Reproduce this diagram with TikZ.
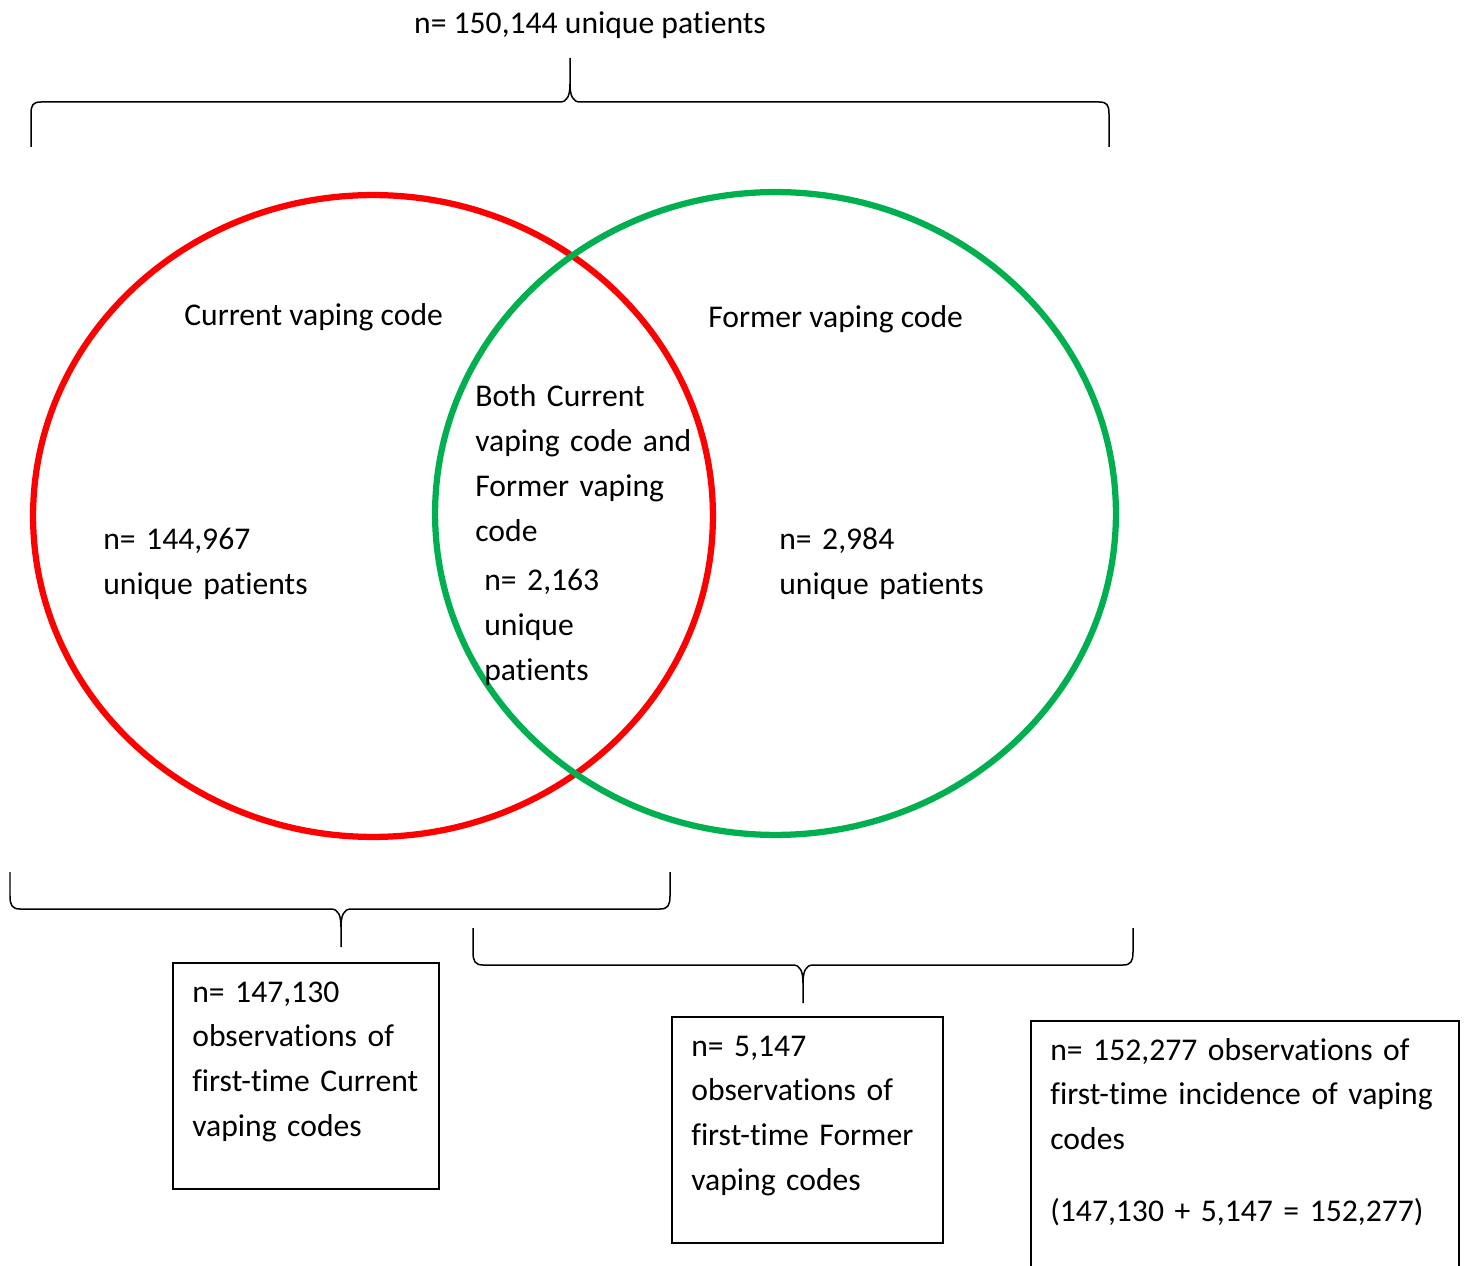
\documentclass[tikz,border=0pt]{standalone}
\usepackage{fontspec}
\setmainfont{Carlito}[Ligatures=NoCommon]
\usetikzlibrary{positioning}
\definecolor{setred}{RGB}{255,0,0}
\definecolor{setgreen}{RGB}{0,176,80}
\tikzset{
vapeset/.style={
draw,
line width=0.125cm
},
countbox/.style={
draw,
line width=0.04cm,
anchor=north west,
inner sep=0pt
},
bracepath/.style={
draw,
line width=0.03cm,
line join=round
},
lbl/.style={
font=\fontsize{18}{25.6}\selectfont,
inner sep=0pt
},
block/.style={
lbl,
anchor=base west,
align=left,
text width=6cm
}
}

\begin{document}
\begin{tikzpicture}[x=0.02cm, y=-0.02cm]
\path[use as bounding box, clip] (0,0) rectangle (1464,1266);

% the two sets
\draw[vapeset, setred] (373,516) ellipse [x radius=6.8cm, y radius=6.42cm];
\draw[vapeset, setgreen] (775.5,513.5) ellipse [x radius=6.81cm, y radius=6.43cm];

% braces
\draw[bracepath] (31,147) -- (31,114) .. controls (31,105) and (33,102) .. (41,102) -- (560,102) .. controls (567,102) and (570,96) .. (570,84) -- (570,58);
\draw[bracepath] (1109,147) -- (1109,114) .. controls (1109,105) and (1107,102) .. (1099,102) -- (580,102) .. controls (573,102) and (570,96) .. (570,84);
\draw[bracepath] (10,872) -- (10,896) .. controls (10,905) and (12,909) .. (20,909) -- (331,909) .. controls (338,909) and (341,915) .. (341,927) -- (341,947);
\draw[bracepath] (670,872) -- (670,896) .. controls (670,905) and (668,909) .. (660,909) -- (351,909) .. controls (344,909) and (341,915) .. (341,927);
\draw[bracepath] (473,928) -- (473,952) .. controls (473,961) and (475,965) .. (483,965) -- (793,965) .. controls (800,965) and (803,971) .. (803,983) -- (803,1003);
\draw[bracepath] (1133,928) -- (1133,952) .. controls (1133,961) and (1131,965) .. (1123,965) -- (813,965) .. controls (806,965) and (803,971) .. (803,983);

% labels
\node[lbl, anchor=base] (total) at (590,34) {n= 150,144 unique patients};
\node[lbl, anchor=base west] (curlab) at (184,326) {Current vaping code};
\node[lbl, anchor=base west] (formlab) at (708,328) {Former vaping code};
\node[block] (curn) at (103,550) {n= 144,967\\unique patients};
\node[block] (formn) at (779,550) {n= 2,984\\unique patients};
\node[block] (bothlab) at (475,407) {Both Current\\vaping code and\\Former vaping\\code};
\node[block] (bothn) at (484,591) {n= 2,163\\unique\\patients};

% count boxes
\node[countbox, minimum width=5.32cm, minimum height=4.52cm] (curbox) at (172,962) {};
\node[countbox, minimum width=5.42cm, minimum height=4.52cm] (formbox) at (671,1016) {};
\node[countbox, minimum width=8.56cm, minimum height=5.6cm] (allbox) at (1030,1020) {};
\node[block] (curobs) at (192,1002) {n= 147,130\\observations of\\first-time Current\\vaping codes};
\node[block] (formobs) at (691,1056) {n= 5,147\\observations of\\first-time Former\\vaping codes};
\node[block, text width=8cm] (allobs) at (1050,1060) {n= 152,277 observations of\\first-time incidence of vaping\\codes\\[0.54cm](147,130 + 5,147 = 152,277)};

\end{tikzpicture}
\end{document}
